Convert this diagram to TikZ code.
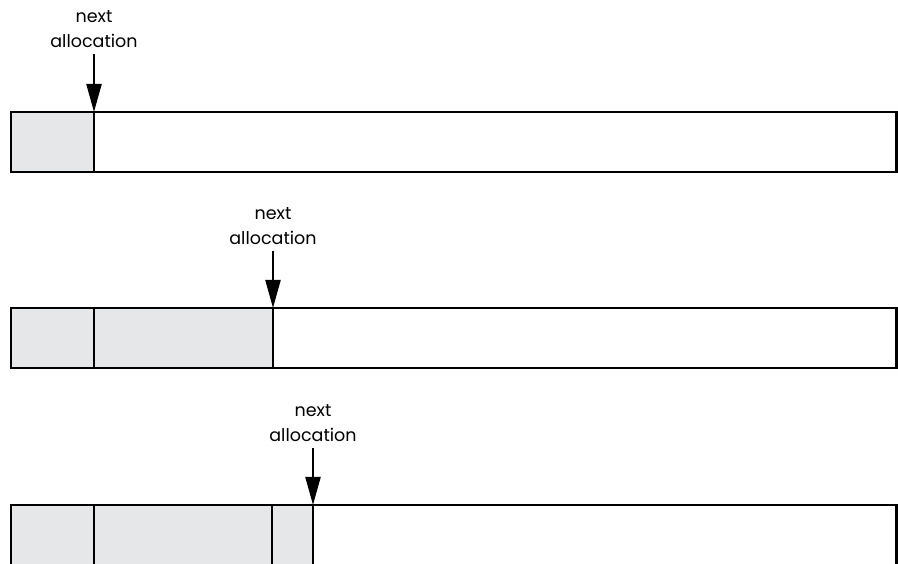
\documentclass[tikz,border=0pt]{standalone}
\usepackage{fontspec}
\setmainfont{Poppins}
\usetikzlibrary{arrows.meta,positioning}
\definecolor{usedgray}{HTML}{E6E7E8}
\begin{document}
\begin{tikzpicture}[x=1pt,y=1pt,
    cell/.style={draw,line width=2.4pt,minimum height=60pt,inner sep=0pt,outer sep=0pt,anchor=north west},
    used/.style={cell,fill=usedgray},
    lbl/.style={align=center,font=\fontsize{17.5}{25}\selectfont,inner sep=0pt},
    >={Triangle[length=28pt,width=15pt]}]
  \useasboundingbox (0,0) rectangle (898,564);
  \clip (0,0) rectangle (898,564);
  % first allocation
  \node[used,minimum width=83pt] (u11) at (11,452) {};
  \node[cell,minimum width=802.5pt] (f1) at (94,452) {};
  \node[lbl,above=64pt of f1.north west] (n1) {next\\allocation};
  \draw[->,line width=2.2pt,shorten <=6pt] (n1.south) -- (f1.north west);
  % second allocation
  \node[used,minimum width=83pt] (u21) at (11,256) {};
  \node[used,minimum width=179pt] (u22) at (94,256) {};
  \node[cell,minimum width=623.5pt] (f2) at (273,256) {};
  \node[lbl,above=63pt of f2.north west] (n2) {next\\allocation};
  \draw[->,line width=2.2pt,shorten <=6pt] (n2.south) -- (f2.north west);
  % third allocation
  \node[used,minimum width=83pt] (u31) at (11,59) {};
  \node[used,minimum width=178pt] (u32) at (94,59) {};
  \node[used,minimum width=41pt] (u33) at (272,59) {};
  \node[cell,minimum width=583.5pt] (f3) at (313,59) {};
  \node[lbl,above=63pt of f3.north west] (n3) {next\\allocation};
  \draw[->,line width=2.2pt,shorten <=6pt] (n3.south) -- (f3.north west);
\end{tikzpicture}
\end{document}
